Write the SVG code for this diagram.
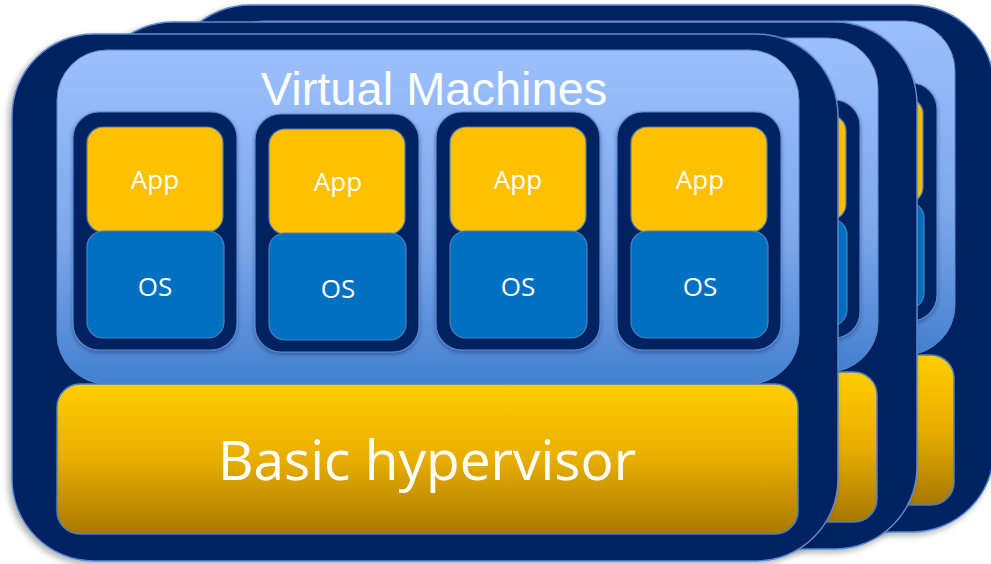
<svg xmlns="http://www.w3.org/2000/svg" xmlns:xlink="http://www.w3.org/1999/xlink" width="991" height="564" viewBox="0 0 991 564">
<style>
.outer{fill:#002060;stroke:#5A8AD0;stroke-width:1.5}
.panel{fill:url(#gPanel);stroke:#5A8AD0;stroke-width:1}
.hyp{fill:url(#gHyp);stroke:#4F81BD;stroke-width:1.5}
.vm{fill:#002060;stroke:#5A8AD0;stroke-width:1.2}
.app{fill:#FFC000;stroke:#4F81BD;stroke-width:1.2}
.os{fill:#0070C0;stroke:#4F81BD;stroke-width:1.2}
.t{fill:#ffffff;font-family:"Open Sans","Liberation Sans",sans-serif;text-anchor:middle}
.vt{fill:#ffffff;font-family:"Liberation Sans",Arial,sans-serif;text-anchor:middle;font-size:47px}
</style>
<defs>
<linearGradient id="gPanel" x1="0" y1="0" x2="0" y2="1">
<stop offset="0" stop-color="#9CC0FC"/>
<stop offset="0.55" stop-color="#7FA9EC"/>
<stop offset="1" stop-color="#4380D0"/>
</linearGradient>
<linearGradient id="gHyp" x1="0" y1="0" x2="0" y2="1">
<stop offset="0" stop-color="#FFCD00"/>
<stop offset="0.5" stop-color="#E8AE00"/>
<stop offset="1" stop-color="#A87800"/>
</linearGradient>
<filter id="sh" x="-10%" y="-10%" width="120%" height="125%">
<feDropShadow dx="-3" dy="3" stdDeviation="3" flood-color="#000" flood-opacity="0.3"/>
</filter>
<filter id="sh2" x="-10%" y="-10%" width="120%" height="120%">
<feDropShadow dx="0" dy="2" stdDeviation="2" flood-color="#001030" flood-opacity="0.35"/>
</filter>
<g id="vmcol">
<rect class="vm" x="0" y="0" width="164" height="238" rx="26" filter="url(#sh2)"/>
<rect class="app" x="14" y="15" width="136" height="105" rx="16"/>
<rect class="os" x="14" y="119" width="137" height="107" rx="16"/>
</g>
<g id="frameT">
<rect class="outer" x="12" y="34" width="826" height="527" rx="82" filter="url(#sh)"/>
<rect class="panel" x="57" y="50" width="742" height="334" rx="50"/>
<use xlink:href="#vmcol" x="73" y="112"/>
<use xlink:href="#vmcol" x="255" y="114"/>
<use xlink:href="#vmcol" x="436" y="112"/>
<use xlink:href="#vmcol" x="617" y="112"/>
<rect class="hyp" x="57" y="384" width="741" height="150" rx="23"/>
</g>
</defs>
<g id="frame-back">
<use xlink:href="#frameT" x="156" y="-29"/>
</g>
<g id="frame-middle">
<use xlink:href="#frameT" x="79" y="-12"/>
</g>
<g id="frame-front">
<rect class="outer" x="12" y="34" width="826" height="527" rx="82" filter="url(#sh)"/>
<rect class="panel" x="57" y="50" width="742" height="334" rx="50"/>
<text class="vt" x="434" y="105">Virtual Machines</text>
</g>
<g id="vm1">
<use xlink:href="#vmcol" x="73" y="112"/>
<text class="t" x="155" y="189" font-size="26">App</text>
<text class="t" x="155" y="296" font-size="26">OS</text>
</g>
<g id="vm2">
<use xlink:href="#vmcol" x="255" y="114"/>
<text class="t" x="338" y="191" font-size="26">App</text>
<text class="t" x="338" y="298" font-size="26">OS</text>
</g>
<g id="vm3">
<use xlink:href="#vmcol" x="436" y="112"/>
<text class="t" x="518" y="189" font-size="26">App</text>
<text class="t" x="518" y="296" font-size="26">OS</text>
</g>
<g id="vm4">
<use xlink:href="#vmcol" x="617" y="112"/>
<text class="t" x="700" y="189" font-size="26">App</text>
<text class="t" x="700" y="296" font-size="26">OS</text>
</g>
<g id="hypervisor">
<rect class="hyp" x="57" y="384" width="741" height="150" rx="23"/>
<text class="t" x="427" y="480" font-size="55">Basic hypervisor</text>
</g>
<g id="connectors"/>
</svg>
